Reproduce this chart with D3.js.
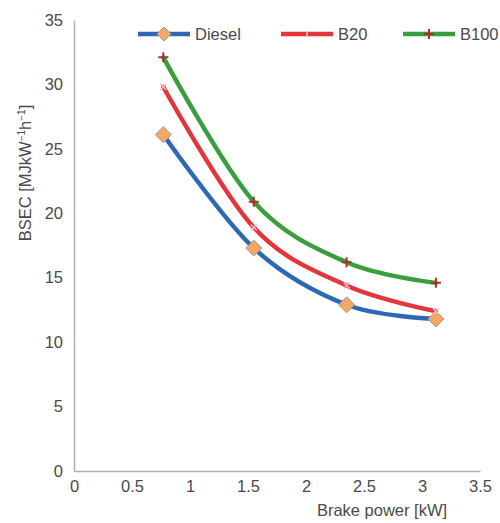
<!DOCTYPE html>
<html><head><meta charset="utf-8">
<script src="https://cdn.jsdelivr.net/npm/d3@7"></script>
<style>body{margin:0;background:#fff}svg{display:block}text{font-family:"Liberation Sans",Arial,sans-serif;fill:#4a4a4a}</style>
</head><body>
<svg id="c" width="500" height="523"></svg>
<script>
const brakePower = [0.77, 1.55, 2.35, 3.12];
const diesel = [26.1, 17.3, 12.9, 11.8];
const b20 = [29.8, 18.9, 14.4, 12.4];
const b100 = [32.1, 20.9, 16.2, 14.6];
const seriesNames = ["Diesel", "B20", "B100"];
const xTicks = [0, 0.5, 1, 1.5, 2, 2.5, 3, 3.5];
const yTicks = [0, 5, 10, 15, 20, 25, 30, 35];

const FS = "16.5px";
const svg = d3.select("#c");
const x = d3.scaleLinear().domain([0, 3.5]).range([74, 480]);
const y = d3.scaleLinear().domain([0, 35]).range([471, 20]);

// axes
const yAx = svg.append("g").attr("transform", "translate(74,0)")
  .call(d3.axisLeft(y).tickValues(yTicks).tickSize(0).tickPadding(11).tickFormat(d3.format("")));
const xAx = svg.append("g").attr("transform", "translate(0,471)")
  .call(d3.axisBottom(x).tickValues(xTicks).tickSize(0).tickPadding(9).tickFormat(d => String(d)));
[yAx, xAx].forEach(g => {
  g.select(".domain").attr("stroke", "#b0b0b0").attr("stroke-width", 1.5);
  g.selectAll("text").style("font-size", FS).attr("fill", "#4a4a4a");
});

// titles
svg.append("text").attr("x", 382).attr("y", 516).attr("text-anchor", "middle")
  .style("font-size", FS).text("Brake power [kW]");
const yt = svg.append("text").attr("transform", "translate(31,173) rotate(-90)")
  .attr("text-anchor", "middle").style("font-size", FS);
yt.append("tspan").text("BSEC [MJkW");
yt.append("tspan").attr("dy", -6).style("font-size", "10px").text("−1");
yt.append("tspan").attr("dy", 6).text("h");
yt.append("tspan").attr("dy", -6).style("font-size", "10px").text("−1");
yt.append("tspan").attr("dy", 6).text("]");

const line = d3.line().x((d, i) => x(brakePower[i])).y(d => y(d)).curve(d3.curveCatmullRom.alpha(0));
const colors = ["#2c68b4", "#e3353a", "#3a9e3e"];
const data = [diesel, b20, b100];

data.forEach((s, k) => {
  svg.append("path").datum(s).attr("d", line).attr("fill", "none")
    .attr("stroke", colors[k]).attr("stroke-width", 4.5).attr("stroke-linecap", "round");
});

function diamond(g, cx, cy, r) {
  g.append("path").attr("d", `M${cx},${cy - r}L${cx + r},${cy}L${cx},${cy + r}L${cx - r},${cy}Z`)
    .attr("fill", "#f4a862").attr("stroke", "#9a9a9a").attr("stroke-width", 1);
}
function plus(g, cx, cy, r, col) {
  g.append("path").attr("d", `M${cx - r},${cy}H${cx + r}M${cx},${cy - r}V${cy + r}`)
    .attr("stroke", col).attr("stroke-width", 2);
}
function xmark(g, cx, cy, r, col) {
  g.append("path").attr("d", `M${cx - r},${cy - r}L${cx + r},${cy + r}M${cx - r},${cy + r}L${cx + r},${cy - r}`)
    .attr("stroke", col).attr("stroke-width", 1.5);
}
const mk = svg.append("g");
diesel.forEach((v, i) => diamond(mk, x(brakePower[i]), y(v), 8));
b20.forEach((v, i) => xmark(mk, x(brakePower[i]), y(v), 3, "#f4b8c8"));
b100.forEach((v, i) => plus(mk, x(brakePower[i]), y(v), 5, "#a8322a"));

// legend
const lg = svg.append("g");
const legX = [138, 281, 403];
seriesNames.forEach((n, k) => {
  lg.append("line").attr("x1", legX[k]).attr("x2", legX[k] + 52).attr("y1", 34).attr("y2", 34)
    .attr("stroke", colors[k]).attr("stroke-width", 4.5);
  const cx = legX[k] + 26;
  if (k === 0) diamond(lg, cx, 34, 7);
  if (k === 1) lg.append("line").attr("x1", cx).attr("x2", cx).attr("y1", 31).attr("y2", 37).attr("stroke", "#f4c0cc").attr("stroke-width", 1.5);
  if (k === 2) plus(lg, cx, 34, 5, "#a8322a");
  lg.append("text").attr("x", legX[k] + 57).attr("y", 40).style("font-size", FS).text(n);
});
</script>
</body></html>
